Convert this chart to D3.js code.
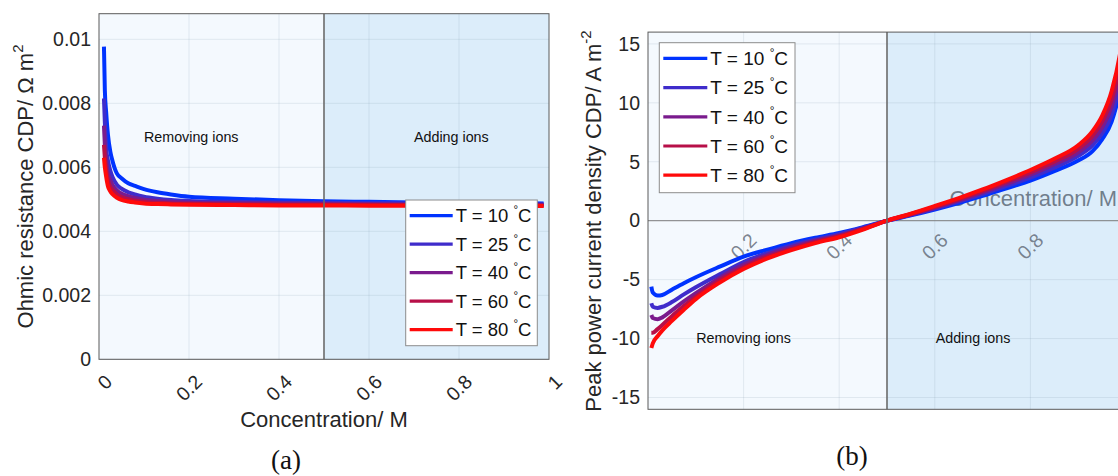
<!DOCTYPE html>
<html>
<head>
<meta charset="utf-8">
<script src="https://cdn.jsdelivr.net/npm/d3@7"></script>
<style>
    body { margin: 0; background: #fff; }
    svg { display: block; font-family: "Liberation Sans", Arial, sans-serif; }
</style>
</head>
<body>
<script>
// legend entries, same for both plots
const temperatures = ["10", "25", "40", "60", "80"];
const lineColors = ["#0033ff", "#3f2ccb", "#7a1b8d", "#b70f48", "#ff0a0a"];

// (a) ohmic resistance CDP vs concentration
const ohmicConc = [0.011, 0.013, 0.016, 0.02, 0.025, 0.03, 0.04, 0.05, 0.065, 0.08, 0.1, 0.13, 0.16, 0.2, 0.3, 0.4, 0.5, 0.6, 0.7, 0.8, 0.9, 0.988];
const ohmic10 = [0.00977, 0.0084, 0.0077, 0.0070, 0.0065, 0.0062, 0.0058, 0.00566, 0.0055, 0.00542, 0.00532, 0.00522, 0.00515, 0.00508, 0.00502, 0.00497, 0.00494, 0.00492, 0.0049, 0.00489, 0.00488, 0.00487];
const ohmic25 = [0.00815, 0.0074, 0.0066, 0.0062, 0.0059, 0.0057, 0.00545, 0.00533, 0.00522, 0.00515, 0.00508, 0.00502, 0.00498, 0.00495, 0.00492, 0.0049, 0.00489, 0.00488, 0.00487, 0.00486, 0.00485, 0.00484];
const ohmic40 = [0.0073, 0.0067, 0.0062, 0.0058, 0.0056, 0.00545, 0.00528, 0.00518, 0.0051, 0.00504, 0.00499, 0.00495, 0.00492, 0.0049, 0.00488, 0.00487, 0.00486, 0.00485, 0.00484, 0.00484, 0.00483, 0.00483];
const ohmic60 = [0.0067, 0.0063, 0.0059, 0.0056, 0.0054, 0.0053, 0.00515, 0.00507, 0.005, 0.00496, 0.00492, 0.00489, 0.00487, 0.00486, 0.00484, 0.00483, 0.00483, 0.00482, 0.00482, 0.00481, 0.00481, 0.0048];
const ohmic80 = [0.0063, 0.006, 0.0057, 0.0054, 0.00525, 0.00516, 0.00505, 0.00498, 0.00493, 0.0049, 0.00487, 0.00485, 0.00484, 0.00483, 0.00482, 0.00481, 0.00481, 0.0048, 0.0048, 0.0048, 0.00479, 0.00479];
const ohmicTicks = [0, 0.002, 0.004, 0.006, 0.008, 0.01];

// (b) peak power current density CDP vs concentration
const peakConc = [0.007, 0.01, 0.02, 0.03, 0.05, 0.075, 0.1, 0.15, 0.2, 0.25, 0.3, 0.35, 0.4, 0.45, 0.5, 0.55, 0.6, 0.65, 0.7, 0.75, 0.8, 0.85, 0.9, 0.93, 0.95, 0.97, 0.99, 1.0];
const peak10 = [-5.6, -6.1, -6.35, -6.3, -5.85, -5.3, -4.8, -3.9, -3.05, -2.45, -1.9, -1.45, -1.05, -0.55, 0, 0.45, 0.95, 1.5, 2.1, 2.75, 3.4, 4.2, 5.1, 5.9, 6.9, 8.4, 11.6, 14];
const peak25 = [-7.0, -7.3, -7.4, -7.3, -6.9, -6.25, -5.65, -4.55, -3.5, -2.75, -2.1, -1.6, -1.15, -0.6, 0, 0.5, 1.03, 1.62, 2.25, 2.95, 3.65, 4.5, 5.5, 6.4, 7.4, 9.0, 12.3, 15];
const peak40 = [-8.0, -8.25, -8.35, -8.2, -7.6, -6.85, -6.15, -4.85, -3.75, -2.9, -2.25, -1.7, -1.25, -0.65, 0, 0.53, 1.1, 1.72, 2.4, 3.12, 3.9, 4.8, 5.8, 6.8, 7.9, 9.7, 13.1, 16];
const peak60 = [-9.5, -9.5, -9.2, -8.85, -8.1, -7.25, -6.45, -5.05, -3.95, -3.05, -2.4, -1.8, -1.32, -0.7, 0, 0.57, 1.18, 1.82, 2.52, 3.3, 4.1, 5.0, 6.1, 7.2, 8.4, 10.3, 13.9, 17];
const peak80 = [-10.8, -10.4, -9.8, -9.3, -8.5, -7.55, -6.65, -5.25, -4.1, -3.2, -2.5, -1.9, -1.4, -0.75, 0, 0.6, 1.25, 1.92, 2.65, 3.45, 4.3, 5.25, 6.4, 7.6, 8.9, 11.0, 14.8, 18];
const peakTicks = [-15, -10, -5, 0, 5, 10, 15];

const concTicks = [0, 0.2, 0.4, 0.6, 0.8, 1];
const regionSplit = 0.5;

const width = 1118, height = 476;
let svg;

function initDashboard() {
    svg = d3.select("body").append("svg")
        .attr("width", width)
        .attr("height", height);

    svg.append("defs");

    createChart1();
    createChart2();
}

// shaded halves + grid lines
function drawBackground(g, x, y, yTicks, xGrid) {
    const [x0, x1] = x.range();
    const [yb, yt] = y.range();
    g.append("rect")
        .attr("x", x0).attr("y", yt)
        .attr("width", x(regionSplit) - x0).attr("height", yb - yt)
        .attr("fill", "#f4f9fe");
    g.append("rect")
        .attr("x", x(regionSplit)).attr("y", yt)
        .attr("width", x1 - x(regionSplit)).attr("height", yb - yt)
        .attr("fill", "#dcedfa");

    g.selectAll(".gx")
        .data(xGrid)
        .enter()
        .append("line")
        .attr("x1", d => x(d)).attr("x2", d => x(d))
        .attr("y1", yt).attr("y2", yb)
        .attr("stroke", "#7f93a8").attr("stroke-opacity", 0.17);
    g.selectAll(".gy")
        .data(yTicks)
        .enter()
        .append("line")
        .attr("x1", x0).attr("x2", x1)
        .attr("y1", d => y(d)).attr("y2", d => y(d))
        .attr("stroke", "#7f93a8").attr("stroke-opacity", 0.17);
}

function drawCurves(g, x, y, conc, seriesList, clipId) {
    const [x0, x1] = x.range();
    const [yb, yt] = y.range();
    svg.select("defs").append("clipPath")
        .attr("id", clipId)
        .append("rect")
        .attr("x", x0).attr("y", yt)
        .attr("width", x1 - x0).attr("height", yb - yt);

    const line = d3.line()
        .x((d, i) => x(conc[i]))
        .y(d => y(d))
        .curve(d3.curveMonotoneX);

    g.append("g")
        .attr("clip-path", `url(#${clipId})`)
        .selectAll("path")
        .data(seriesList)
        .enter()
        .append("path")
        .attr("d", d => line(d))
        .attr("fill", "none")
        .attr("stroke", (d, i) => lineColors[i])
        .attr("stroke-width", 4);
}

function drawLegend(g, left, top, w, h, rowStep, lineLen, fontSize) {
    g.append("rect")
        .attr("x", left).attr("y", top)
        .attr("width", w).attr("height", h)
        .attr("fill", "#fff")
        .attr("stroke", "#8c8c8c");

    const rows = g.selectAll(".leg")
        .data(temperatures)
        .enter()
        .append("g")
        .attr("transform", (d, i) => `translate(${left + 4},${top + 15.7 + i * rowStep})`);

    rows.append("line")
        .attr("x1", 0).attr("x2", lineLen)
        .attr("stroke", (d, i) => lineColors[i])
        .attr("stroke-width", 3.2);

    const txt = rows.append("text")
        .attr("x", lineLen + 3)
        .attr("y", fontSize * 0.36)
        .attr("font-size", fontSize)
        .attr("fill", "#111");
    txt.append("tspan").text(d => `T = ${d} `);
    txt.append("tspan").attr("font-size", fontSize * 0.62).attr("dy", -fontSize * 0.5).text("°");
    txt.append("tspan").attr("dy", fontSize * 0.5).text("C");
}

function regionLabels(g, x, y, c1, c2, yVal) {
    g.append("text")
        .attr("x", x(c1)).attr("y", y(yVal))
        .attr("text-anchor", "middle")
        .attr("font-size", 14.3)
        .attr("fill", "#111")
        .text("Removing ions");
    g.append("text")
        .attr("x", x(c2)).attr("y", y(yVal))
        .attr("text-anchor", "middle")
        .attr("font-size", 14.3)
        .attr("fill", "#111")
        .text("Adding ions");
}

function createChart1() {
    const g = svg.append("g");

    const x = d3.scaleLinear().domain([0, 1]).range([99, 549]);
    const y = d3.scaleLinear().domain([0, 0.0108]).range([359.3, 13.7]);

    drawBackground(g, x, y, ohmicTicks, [0.2, 0.4, 0.6, 0.8]);
    regionLabels(g, x, y, 0.205, 0.783, 0.0068);
    drawCurves(g, x, y, ohmicConc, [ohmic10, ohmic25, ohmic40, ohmic60, ohmic80], "clipA");

    // divider
    g.append("line")
        .attr("x1", x(regionSplit)).attr("x2", x(regionSplit))
        .attr("y1", y.range()[1]).attr("y2", y.range()[0])
        .attr("stroke", "#6b6b6b").attr("stroke-width", 1.6);

    // box
    g.append("rect")
        .attr("x", 99).attr("y", 13.7)
        .attr("width", 450).attr("height", 359.3 - 13.7)
        .attr("fill", "none").attr("stroke", "#5a5a5a");

    // Y Axis
    const ya = g.append("g")
        .attr("transform", "translate(99,0)")
        .call(d3.axisLeft(y).tickValues(ohmicTicks).tickSize(0).tickPadding(8).tickFormat(d3.format("~g")));
    ya.select(".domain").remove();
    ya.selectAll("text").attr("font-size", 19.5).attr("fill", "#262626").attr("font-family", null);

    // X Axis (rotated labels)
    const xa = g.append("g")
        .attr("transform", "translate(0,359.3)")
        .call(d3.axisBottom(x).tickValues(concTicks).tickSize(0).tickFormat(d3.format("~g")));
    xa.select(".domain").remove();
    xa.selectAll("text")
        .attr("x", 0).attr("y", 0).attr("dy", "0.35em")
        .attr("text-anchor", "end")
        .attr("transform", "translate(9,19) rotate(-45)")
        .attr("font-size", 19.5).attr("fill", "#262626").attr("font-family", null);

    drawLegend(g, 405.7, 200, 131.6, 145.7, 28.5, 43, 18.5);

    // Axis labels
    g.append("text")
        .attr("x", 324).attr("y", 427)
        .attr("text-anchor", "middle")
        .attr("font-size", 22).attr("fill", "#262626")
        .text("Concentration/ M");

    const yl = g.append("text")
        .attr("transform", "translate(33,186.5) rotate(-90)")
        .attr("text-anchor", "middle")
        .attr("font-size", 22).attr("fill", "#262626");
    yl.append("tspan").text("Ohmic resistance CDP/ Ω m");
    yl.append("tspan").attr("font-size", 15).attr("dy", -10).text("2");

    svg.append("text")
        .attr("x", 286).attr("y", 469)
        .attr("text-anchor", "middle")
        .attr("font-family", "'Liberation Serif', 'DejaVu Serif', serif")
        .attr("font-size", 27).attr("fill", "#111")
        .text("(a)");
}

function createChart2() {
    const g = svg.append("g");

    const x = d3.scaleLinear().domain([0, 1]).range([648, 1126]);
    const y = d3.scaleLinear().domain([-16, 16]).range([409.3, 32.1]);

    drawBackground(g, x, y, peakTicks, [0.2, 0.4, 0.6, 0.8]);
    regionLabels(g, x, y, 0.2, 0.68, -10.4);

    // x axis through the origin, labels sit under the shading
    const xa = g.append("g")
        .attr("transform", `translate(0,${y(0)})`)
        .call(d3.axisBottom(x).tickValues([0.2, 0.4, 0.6, 0.8]).tickSize(0).tickFormat(d3.format("~g")));
    xa.select(".domain").remove();
    xa.selectAll("text")
        .attr("x", 0).attr("y", 0).attr("dy", "0.35em")
        .attr("text-anchor", "end")
        .attr("transform", "translate(9,16) rotate(-45)")
        .attr("font-size", 19.5).attr("fill", "#5d6673").attr("fill-opacity", 0.8).attr("font-family", null);
    g.append("line")
        .attr("x1", x(0)).attr("x2", x(1))
        .attr("y1", y(0)).attr("y2", y(0))
        .attr("stroke", "#7f7f7f");

    g.append("text")
        .attr("x", 1117).attr("y", 205.5)
        .attr("text-anchor", "end")
        .attr("font-size", 22).attr("fill", "#5d6a78").attr("fill-opacity", 0.85)
        .text("Concentration/ M");

    drawCurves(g, x, y, peakConc, [peak10, peak25, peak40, peak60, peak80], "clipB");

    g.append("line")
        .attr("x1", x(regionSplit)).attr("x2", x(regionSplit))
        .attr("y1", y.range()[1]).attr("y2", y.range()[0])
        .attr("stroke", "#6b6b6b").attr("stroke-width", 1.6);

    g.append("rect")
        .attr("x", 648).attr("y", 32.1)
        .attr("width", 478).attr("height", 409.3 - 32.1)
        .attr("fill", "none").attr("stroke", "#5a5a5a");

    // Y Axis
    const ya = g.append("g")
        .attr("transform", "translate(648,0)")
        .call(d3.axisLeft(y).tickValues(peakTicks).tickSize(0).tickPadding(8).tickFormat(d => String(d)));
    ya.select(".domain").remove();
    ya.selectAll("text").attr("font-size", 19.5).attr("fill", "#262626").attr("font-family", null);

    drawLegend(g, 659.3, 42.7, 135.7, 150, 29.2, 44, 19);

    const yl = g.append("text")
        .attr("transform", "translate(601,221) rotate(-90)")
        .attr("text-anchor", "middle")
        .attr("font-size", 22).attr("fill", "#262626");
    yl.append("tspan").text("Peak power current density CDP/ A m");
    yl.append("tspan").attr("font-size", 15).attr("dy", -10).text("-2");

    svg.append("text")
        .attr("x", 852).attr("y", 465)
        .attr("text-anchor", "middle")
        .attr("font-family", "'Liberation Serif', 'DejaVu Serif', serif")
        .attr("font-size", 27).attr("fill", "#111")
        .text("(b)");
}

initDashboard();
</script>
</body>
</html>
